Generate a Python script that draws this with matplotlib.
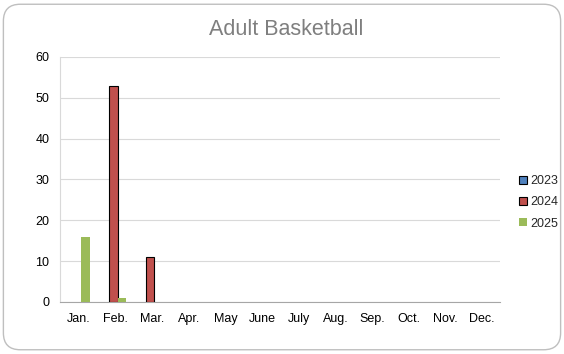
import matplotlib
matplotlib.use("Agg")
import matplotlib.pyplot as plt
from matplotlib.patches import FancyBboxPatch, Patch
import numpy as np

plt.rcParams['font.family'] = ['Liberation Sans', 'DejaVu Sans']

months = ["Jan.", "Feb.", "Mar.", "Apr.", "May", "June", "July", "Aug.", "Sep.", "Oct.", "Nov.", "Dec."]
series_names = ["2023", "2024", "2025"]
v2023 = [0, 0, 0, 0, 0, 0, 0, 0, 0, 0, 0, 0]
v2024 = [0, 53, 11, 0, 0, 0, 0, 0, 0, 0, 0, 0]
v2025 = [16, 1, 0, 0, 0, 0, 0, 0, 0, 0, 0, 0]
colors = ["#4F81BD", "#C0504D", "#9BBB59"]
edges = ["#000000", "#000000", "none"]

fig = plt.figure(figsize=(5.64, 3.54), dpi=100)
fig.patch.set_facecolor("white")
border = FancyBboxPatch((0.006, 0.012), 0.988, 0.976, boxstyle="round,pad=0,rounding_size=0.03",
                        transform=fig.transFigure, facecolor="none", edgecolor="#BFBFBF", lw=1.0,
                        mutation_aspect=564/354, zorder=-1)
fig.patches.append(border)

ax = fig.add_axes([0.107, 0.147, 0.780, 0.692])
ax.set_facecolor("none")
x = np.arange(len(months))
w = 0.235
for i, (vals, name) in enumerate(zip([v2023, v2024, v2025], series_names)):
    vals = np.array(vals, dtype=float)
    mask = vals > 0
    ax.bar(x[mask] + (i - 1) * w - 0.05, vals[mask], width=w, color=colors[i],
           edgecolor=edges[i], linewidth=0.8, label=name, zorder=3)

ax.set_xlim(-0.5, 11.5)
ax.set_ylim(0, 60)
ax.set_yticks([0, 10, 20, 30, 40, 50, 60])
ax.set_xticks(x)
ax.set_xticklabels(months)
ax.tick_params(axis='y', length=0, labelsize=9, colors="#000000", pad=8)
ax.tick_params(axis='x', length=0, labelsize=9, colors="#000000", pad=8)
ax.grid(axis='y', color="#D9D9D9", lw=0.8, zorder=0)
for s in ['top', 'right']:
    ax.spines[s].set_visible(False)
ax.spines['left'].set_color("#D9D9D9")
ax.spines['bottom'].set_color("#A6A6A6")

fig.text(0.507, 0.917, "Adult Basketball", ha='center', va='center', fontsize=15.5, color="#7F7F7F")

handles = [Patch(facecolor=colors[0], edgecolor="#000000", lw=0.8),
           Patch(facecolor=colors[1], edgecolor="#000000", lw=0.8),
           Patch(facecolor=colors[2], edgecolor="none")]
leg = fig.legend(handles, series_names, loc='center left', bbox_to_anchor=(0.921, 0.428),
                 frameon=False, fontsize=9, handlelength=0.6, handleheight=0.6,
                 handletextpad=0.25, labelspacing=0.75, borderaxespad=0, borderpad=0)
for t in leg.get_texts():
    t.set_color("#262626")

fig.savefig("out.png", dpi=100)
